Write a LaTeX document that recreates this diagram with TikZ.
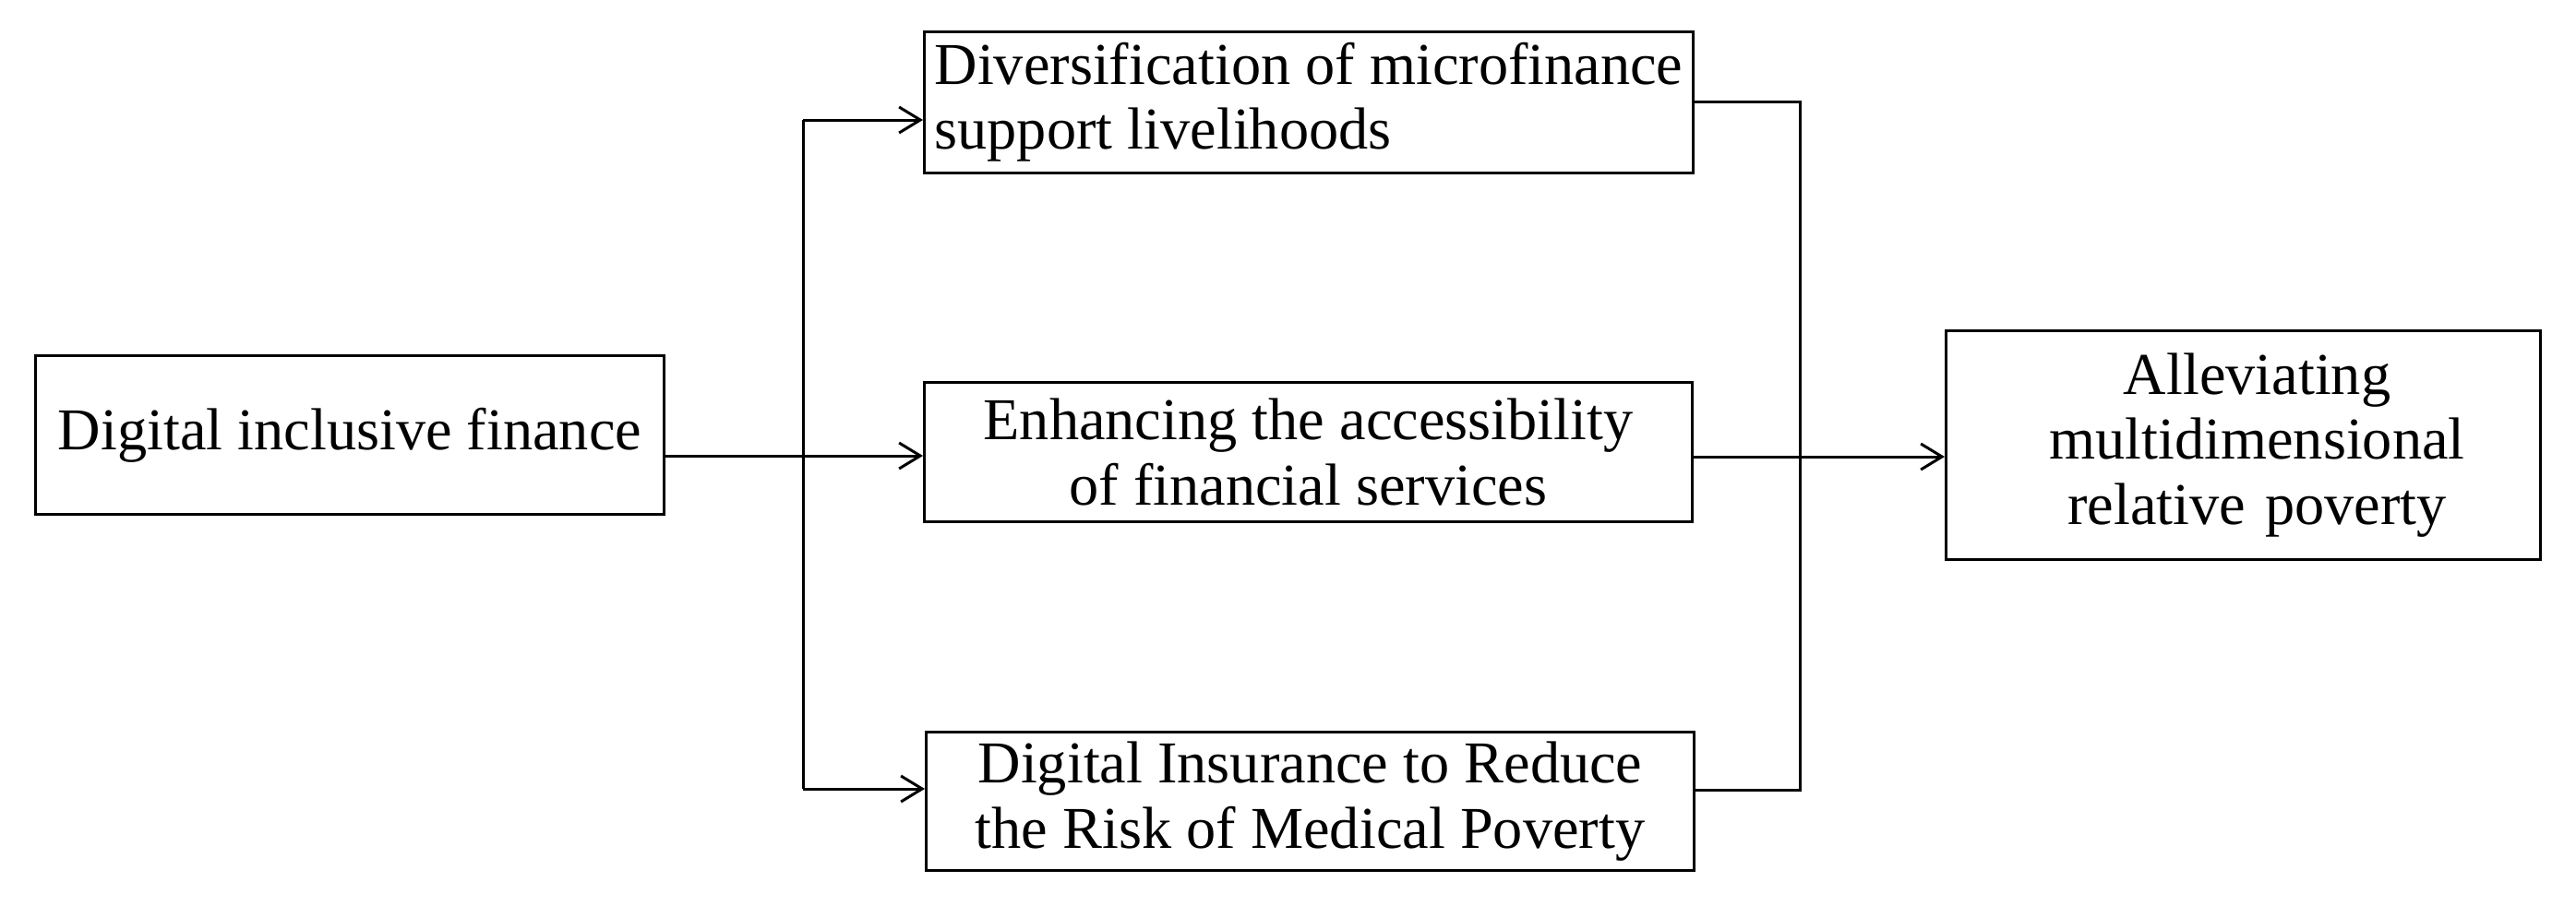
\documentclass[tikz,border=0pt]{standalone}
\usepackage{fontspec}
\setmainfont{Liberation Serif}
\usetikzlibrary{arrows.meta,calc}
\begin{document}
\begin{tikzpicture}[
  x=1cm,y=1cm,
  box/.style={draw=black,line width=0.03cm,rectangle,inner sep=0pt,
    font=\fontsize{18.3}{20}\selectfont},
  arr/.style={line width=0.03cm,-{Straight Barb[length=0.23cm,width=0.28cm,line width=0.03cm]}},
  ln/.style={line width=0.03cm}
]
\useasboundingbox (0,0) rectangle (27.91,-9.81);
% boxes (px/100 cm, y downwards)
\node[box,minimum width=6.81cm,minimum height=1.72cm,anchor=north west,align=center] (A) at (0.37,-3.84) {Digital inclusive finance};
\node[box,minimum width=8.33cm,minimum height=1.53cm,anchor=north west,align=left] (D1) at (10.00,-0.33) {Diversification of microfinance\\support livelihoods};
\node[box,minimum width=8.32cm,minimum height=1.51cm,anchor=north west,align=center] (D2) at (10.00,-4.13) {Enhancing the accessibility\\of financial services};
\node[box,minimum width=8.32cm,minimum height=1.50cm,anchor=north west,align=center] (D3) at (10.02,-7.92) {Digital Insurance to Reduce\\the Risk of Medical Poverty};
\node[box,minimum width=6.44cm,minimum height=2.48cm,anchor=north west,align=center,text width=6.44cm] (B) at (21.07,-3.57) {\hspace*{0.3cm}Alleviating\\\hspace*{0.3cm}multidimensional\\\hspace*{0.3cm}relative poverty};
% helper coordinates
\coordinate (lt) at (8.70,-1.30);
\coordinate (lb) at (8.70,-8.55);
\coordinate (lm) at (8.70,-4.94);
\coordinate (rt) at (19.50,-1.10);
\coordinate (rb) at (19.50,-8.56);
\coordinate (rm) at (19.50,-4.95);
% left side
\draw[ln] (A.east |- lm) -- (lm);
\draw[arr] (lm) -- (D2.west |- lm);
\draw[ln] (lt) -- (lb);
\draw[arr] (lt) -- (D1.west |- lt);
\draw[arr] (lb) -- (D3.west |- lb);
% right side
\draw[ln] (D1.east |- rt) -- (rt) -- (rb) -- (D3.east |- rb);
\draw[ln] (D2.east |- rm) -- (rm);
\draw[arr] (rm) -- (B.west |- rm);
\end{tikzpicture}
\end{document}
